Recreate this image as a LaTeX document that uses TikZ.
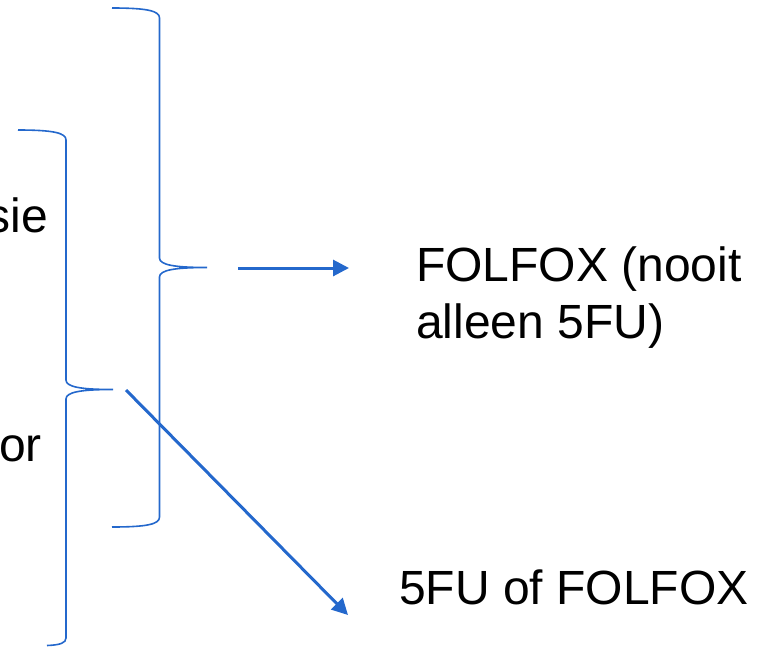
\documentclass[tikz,border=0pt]{standalone}
\usepackage{fontspec}
\setmainfont{Liberation Sans}
\usetikzlibrary{arrows.meta}
\definecolor{bl}{RGB}{36,104,204}
\tikzset{
  brace/.style={draw=bl, line width=1.6pt},
  conn/.style={draw=bl, line width=3pt, -{Triangle[length=16pt,width=16pt]}},
  lbl/.style={inner sep=0pt, font=\fontsize{48}{57}\selectfont, text=black}
}
\begin{document}
\begin{tikzpicture}[x=1pt,y=-1pt]
\useasboundingbox (0,0) rectangle (761,646);
% big brace
\draw[brace] (112,8) .. controls (148,8) and (159.5,11) .. (159.5,18)
  -- (159.5,258) .. controls (159.5,265) and (175,267.5) .. (207,267.5)
  .. controls (175,267.5) and (159.5,270) .. (159.5,277)
  -- (159.5,517) .. controls (159.5,524) and (148,527) .. (112,527);
% small brace
\draw[brace] (18,130) .. controls (54,130) and (66,133) .. (66,140)
  -- (66,380) .. controls (66,387) and (81,389.5) .. (113,389.5)
  .. controls (81,389.5) and (66,392) .. (66,399)
  -- (66,638) .. controls (66,643) and (60,645) .. (47,645.5);
% labels
\node[lbl, anchor=base east] (sie) at (48,232) {sie};
\node[lbl, anchor=base east] (or) at (42,461) {or};
\node[lbl, anchor=base west, align=left] (folfox) at (416,338) {FOLFOX (nooit\\alleen 5FU)};
\node[lbl, anchor=base west] (fu) at (399,604) {5FU of FOLFOX};
% connectors
\coordinate (a1s) at (238,268);
\coordinate (a1e) at (349,268);
\coordinate (a2s) at (126,390);
\coordinate (a2e) at (348,615);
\draw[conn] (a1s) -- (a1e);
\draw[conn] (a2s) -- (a2e);
\end{tikzpicture}
\end{document}
